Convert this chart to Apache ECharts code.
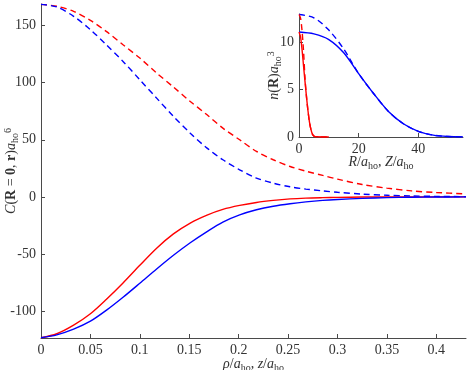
<!DOCTYPE html>
<html>
<head>
<meta charset="utf-8">
<script src="https://cdn.jsdelivr.net/npm/echarts@6/dist/echarts.min.js"></script>
<style>
  html, body { margin: 0; padding: 0; background: #fff; }
  #chart { width: 471px; height: 370px; }
</style>
</head>
<body>
<div id="chart"></div>
<script>
// main panel: rho/a_ho (shared x for all four curves)
const rho = [0, 0.016, 0.033, 0.05, 0.066, 0.083, 0.1, 0.117, 0.134, 0.151, 0.168, 0.184,
  0.201, 0.218, 0.235, 0.252, 0.268, 0.285, 0.3, 0.325, 0.35, 0.375, 0.4, 0.43]
const redDashed = [168.7, 167, 162.6, 154.7, 145, 133.3, 121.6, 108.5, 96.2, 83.6, 71.9, 60.2,
  50, 39.8, 32.5, 26.6, 22.5, 18.8, 15.5, 10.8, 7.6, 5.2, 3.8, 2.6]
const blueDashed = [168.7, 166.4, 158.2, 146.5, 133.3, 118.7, 102.6, 86.5, 70.5, 55.8, 42.7, 32.5,
  23.7, 16.4, 12, 8.8, 6.8, 5.2, 4.0, 2.4, 1.4, 0.8, 0.4, 0.2]
const redSolid = [-123.5, -120, -112.5, -102.5, -90, -75.5, -60, -45, -32.5, -23, -16, -11,
  -7.5, -4.9, -3.1, -1.8, -1.1, -0.7, -0.45, -0.2, -0.08, -0.03, 0, 0]
const blueSolid = [-123.5, -121, -116, -109, -99.5, -88, -75.7, -63.2, -51.2, -40.2, -30.4, -22.1,
  -15.8, -11.3, -8.2, -6.0, -4.4, -3.1, -2.3, -1.3, -0.7, -0.35, -0.15, -0.05]

const mainXTicks = [0, 0.05, 0.1, 0.15, 0.2, 0.25, 0.3, 0.35, 0.4]
const mainYTicks = [-100, -50, 0, 50, 100, 150]

// inset: density profiles
const insetX = [0, 5, 10, 15, 20, 25, 30, 35, 40, 45, 50, 55]
const insetBlueSolid = [11.1, 10.9, 10.3, 8.9, 6.7, 4.6, 2.7, 1.4, 0.6, 0.2, 0.05, 0.01]
const insetBlueDashed = [12.95, 12.6, 11.3, 9.3, 6.7, 4.6, 2.7, 1.4, 0.6, 0.2, 0.05, 0.01]
const insetRedX = [0, 0.5, 1, 1.5, 2, 2.5, 3, 3.5, 4, 4.5, 5, 6, 10]
const insetRedSolid = [11.1, 10.6, 9.3, 7.6, 5.9, 4.3, 2.8, 1.6, 0.8, 0.3, 0.1, 0.02, 0]
const insetRedDashed = [12.95, 12.6, 11.3, 9.2, 6.3, 4.3, 2.8, 1.6, 0.8, 0.3, 0.1, 0.02, 0]
const insetXTicks = [0, 20, 40]
const insetYTicks = [0, 5, 10]

const FONT = 'Liberation Serif'
const AXIS_COLOR = '#4a4a4a'
const LABEL_COLOR = '#333'

const pairs = (xs, ys) => xs.map((x, i) => [x, ys[i]])

function axisBase(ticks) {
  return {
    axisLine: { show: true, onZero: false, lineStyle: { color: AXIS_COLOR, width: 1 } },
    axisTick: { show: true, inside: true, length: 4, customValues: ticks, lineStyle: { color: AXIS_COLOR } },
    axisLabel: { customValues: ticks, color: LABEL_COLOR, fontFamily: FONT, fontSize: 14, margin: 5 },
    splitLine: { show: false },
    nameMoveOverlap: false
  }
}

const nameRich = {
  n: { fontFamily: FONT, fontSize: 14, color: LABEL_COLOR },
  i: { fontFamily: FONT, fontSize: 14, fontStyle: 'italic', color: LABEL_COLOR },
  b: { fontFamily: FONT, fontSize: 14, fontWeight: 'bold', color: LABEL_COLOR },
  sub: { fontFamily: FONT, fontSize: 10, color: LABEL_COLOR, verticalAlign: 'bottom', padding: [7, 0, 0, 0] },
  sup: { fontFamily: FONT, fontSize: 10, color: LABEL_COLOR, verticalAlign: 'top', padding: [0, 0, 7, 0] }
}

function line(name, xi, data, color, dashed) {
  return {
    name,
    type: 'line',
    xAxisIndex: xi,
    yAxisIndex: xi,
    data,
    showSymbol: false,
    smooth: 0.3,
    lineStyle: { color, width: 1.4, type: dashed ? [6, 4] : 'solid' },
    z: dashed ? 3 : 2
  }
}

const chart = echarts.init(document.getElementById('chart'))

chart.setOption({
  animation: false,
  backgroundColor: '#fff',
  grid: [
    { left: 41, right: 5, top: 4, bottom: 32, outerBoundsMode: 'none' },
    { left: 299, right: 8, top: 14, bottom: 233, outerBoundsMode: 'none' }
  ],
  xAxis: [
    {
      type: 'value', gridIndex: 0, min: 0, max: 0.43,
      ...axisBase(mainXTicks),
      name: '{i|ρ}{n|/}{i|a}{sub|ho}{n|, }{i|z}{n|/}{i|a}{sub|ho}',
      nameLocation: 'middle', nameGap: 18,
      nameTextStyle: { rich: nameRich }
    },
    {
      type: 'value', gridIndex: 1, min: 0, max: 55,
      ...axisBase(insetXTicks),
      name: '{i|R}{n|/}{i|a}{sub|ho}{n|, }{i|Z}{n|/}{i|a}{sub|ho}',
      nameLocation: 'middle', nameGap: 17,
      nameTextStyle: { rich: nameRich }
    }
  ],
  yAxis: [
    {
      type: 'value', gridIndex: 0, min: -123.7, max: 169,
      ...axisBase(mainYTicks),
      name: '{i|C}{n|(}{b|R}{n| = }{b|0}{n|, }{b|r}{n|)}{i|a}{sub|ho}{sup|6}',
      nameLocation: 'middle', nameGap: 21, nameRotate: 90,
      nameTextStyle: { rich: nameRich }
    },
    {
      type: 'value', gridIndex: 1, min: 0, max: 13,
      ...axisBase(insetYTicks),
      name: '{i|n}{n|(}{b|R}{n|)}{i|a}{sub|ho}{sup|3}',
      nameLocation: 'middle', nameGap: 16, nameRotate: 90,
      nameTextStyle: { rich: nameRich }
    }
  ],
  series: [
    line('red dashed', 0, pairs(rho, redDashed), '#ff0000', true),
    line('blue dashed', 0, pairs(rho, blueDashed), '#0000ff', true),
    line('red solid', 0, pairs(rho, redSolid), '#ff0000', false),
    line('blue solid', 0, pairs(rho, blueSolid), '#0000ff', false),
    line('inset blue solid', 1, pairs(insetX, insetBlueSolid), '#0000ff', false),
    line('inset blue dashed', 1, pairs(insetX, insetBlueDashed), '#0000ff', true),
    line('inset red solid', 1, pairs(insetRedX, insetRedSolid), '#ff0000', false),
    line('inset red dashed', 1, pairs(insetRedX, insetRedDashed), '#ff0000', true)
  ]
})
</script>
</body>
</html>
